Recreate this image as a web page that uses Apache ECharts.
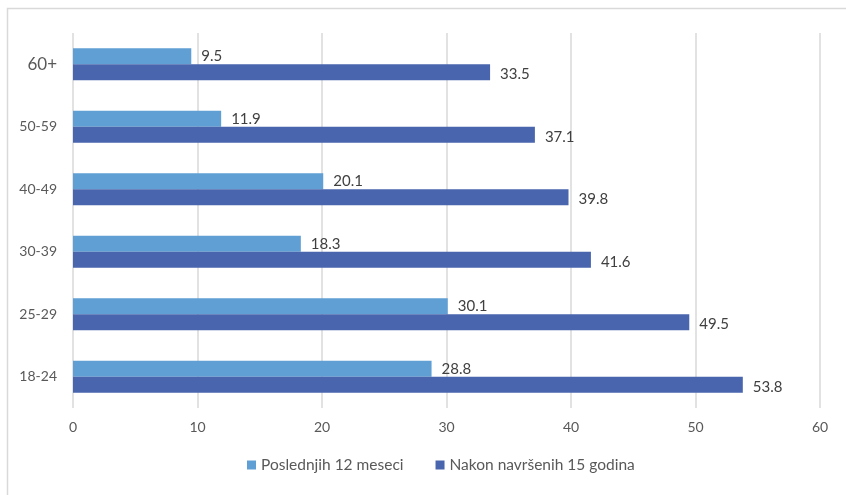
<!DOCTYPE html>
<html><head><meta charset="utf-8">
<script src="https://cdn.jsdelivr.net/npm/echarts@6/dist/echarts.min.js"></script>
<style>html,body{margin:0;padding:0;background:#fff}#c{width:846px;height:495px}</style>
</head><body><div id="c"></div>
<script>
const categories = ['18-24', '25-29', '30-39', '40-49', '50-59', '60+'];
const last12 = [28.8, 30.1, 18.3, 20.1, 11.9, 9.5];
const after15 = [53.8, 49.5, 41.6, 39.8, 37.1, 33.5];
const seriesNames = ['Poslednjih 12 meseci', 'Nakon navršenih 15 godina'];
const xTicks = [0, 10, 20, 30, 40, 50, 60];

const font = 'Lato, "Open Sans", sans-serif';
const chart = echarts.init(document.getElementById('c'));
chart.setOption({
  animation: false,
  textStyle: {fontFamily: font},
  graphic: [{type: 'rect', shape: {x: 7.5, y: 8.5, width: 900, height: 600}, style: {fill: 'none', stroke: '#d9d9d9', lineWidth: 1.5}, silent: true}],
  grid: {left: 73, right: 26, top: 33, bottom: 87, containLabel: false},
  legend: {
    bottom: 17, left: 242, itemWidth: 9, itemHeight: 9, itemGap: 32,
    icon: 'rect',
    textStyle: {fontFamily: font, fontSize: 15.5, color: '#595959'},
    data: seriesNames
  },
  xAxis: {
    type: 'value', min: xTicks[0], max: xTicks[xTicks.length - 1], interval: 10,
    axisLine: {show: false}, axisTick: {show: false},
    splitLine: {lineStyle: {color: '#d9d9d9', width: 1.5}},
    axisLabel: {color: '#595959', fontSize: 14, margin: 12, fontFamily: font}
  },
  yAxis: {
    type: 'category', data: categories,
    axisLine: {show: false}, axisTick: {show: false},
    axisLabel: {
      color: '#595959', fontSize: 14, margin: 16, fontFamily: font,
      formatter: v => v === '60+' ? '{big|' + v + '}' : v,
      rich: {big: {fontSize: 17, color: '#595959', fontFamily: font}}
    }
  },
  series: [
    {
      name: seriesNames[0], type: 'bar', data: last12, barWidth: 16, barGap: '0%',
      itemStyle: {color: '#5f9fd4'},
      label: {show: true, position: 'right', distance: 10, color: '#404040', fontSize: 15, fontFamily: font}
    },
    {
      name: seriesNames[1], type: 'bar', data: after15, barWidth: 16, barGap: '0%',
      itemStyle: {color: '#4865ad'},
      label: {show: true, position: 'right', distance: 10, color: '#404040', fontSize: 15, fontFamily: font, offset: [0, 2]}
    }
  ]
});
</script></body></html>
